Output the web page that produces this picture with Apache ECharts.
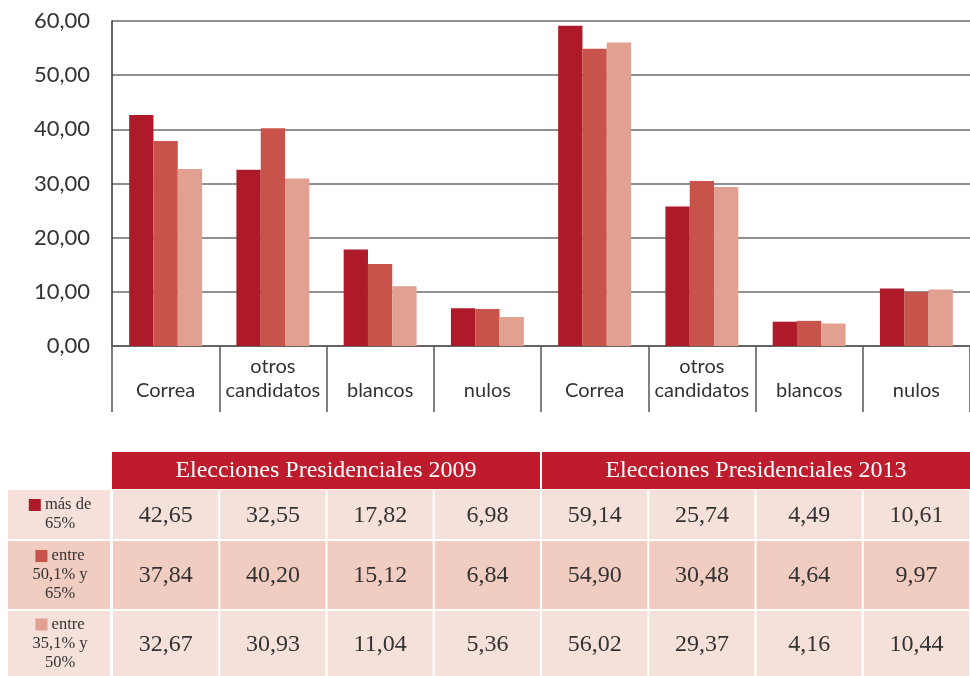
<!DOCTYPE html>
<html><head><meta charset="utf-8">
<script src="https://cdn.jsdelivr.net/npm/echarts@6/dist/echarts.min.js"></script>
<style>html,body{margin:0;padding:0;background:#fff}#c{width:970px;height:676px}</style>
</head><body><div id="c"></div>
<script>
const categories = ['Correa','otros\ncandidatos','blancos','nulos','Correa','otros\ncandidatos','blancos','nulos'];
const mas65 = [42.65, 32.55, 17.82, 6.98, 59.14, 25.74, 4.49, 10.61];
const entre50 = [37.84, 40.20, 15.12, 6.84, 54.90, 30.48, 4.64, 9.97];
const entre35 = [32.67, 30.93, 11.04, 5.36, 56.02, 29.37, 4.16, 10.44];
const seriesNames = ['más de\n65%', 'entre\n50,1% y\n65%', 'entre\n35,1% y\n50%'];
const headers = ['Elecciones Presidenciales 2009', 'Elecciones Presidenciales 2013'];
const yMin = 0, yMax = 60, yInterval = 10;

const colors = ['#AE1A2A', '#C8534A', '#E2A091'];
const rowBg = ['#F5E1DA', '#F0CCC1', '#F5E1DA'];
const allSeries = [mas65, entre50, entre35];
const fmt = v => v.toFixed(2).replace('.', ',');

const chart = echarts.init(document.getElementById('c'));
chart.setOption({
  animation: false,
  grid: { left: 112, right: 0, top: 21, bottom: 330, containLabel: false },
  xAxis: {
    type: 'category', data: categories,
    axisLine: { lineStyle: { color: '#555', width: 1.5 } },
    axisTick: { show: true, length: 66, lineStyle: { color: '#555', width: 1.5 } },
    axisLabel: { interval: 0, margin: 57, verticalAlign: 'bottom', lineHeight: 24,
      fontFamily: 'Lato', fontSize: 20, color: '#333' }
  },
  yAxis: {
    type: 'value', min: yMin, max: yMax, interval: yInterval,
    axisLine: { show: true, lineStyle: { color: '#333', width: 1.5 } },
    axisTick: { show: false },
    splitLine: { lineStyle: { color: '#6b6b6b', width: 1.5 } },
    axisLabel: { margin: 22, fontFamily: 'Lato', fontSize: 22, color: '#333',
      formatter: v => fmt(v) }
  },
  series: allSeries.map((d, i) => ({
    type: 'bar', name: seriesNames[i], data: d, barGap: '0%', barCategoryGap: '32%',
    itemStyle: { color: colors[i] }
  }))
});

function buildTable() {
  const c0 = chart.convertToPixel({ xAxisIndex: 0 }, 0);
  const c1 = chart.convertToPixel({ xAxisIndex: 0 }, 1);
  const band = c1 - c0;
  const x0 = c0 - band / 2;
  const rowTop = [490, 541, 611];
  const rowBot = [539, 609, 676];
  const els = [];
  headers.forEach((h, k) => {
    const xs = x0 + k * 4 * band + (k ? 1 : 0);
    const xe = x0 + (k + 1) * 4 * band - (k ? 0 : 1);
    els.push({ type: 'rect', shape: { x: xs, y: 452, width: xe - xs, height: 37 }, style: { fill: '#BE1C2D' } });
    els.push({ type: 'text', x: (xs + xe) / 2, y: 471, style: { text: h, fill: '#fff', font: '24px "Liberation Serif"', align: 'center', verticalAlign: 'middle' } });
  });
  allSeries.forEach((d, r) => {
    const yt = rowTop[r], yb = rowBot[r];
    els.push({ type: 'rect', shape: { x: 8, y: yt, width: 102, height: yb - yt }, style: { fill: rowBg[r] } });
    const lines = seriesNames[r].split('\n');
    els.push({ type: 'text', x: 60, y: (yt + yb) / 2, style: {
      text: '{sw|} ' + lines[0] + '\n' + lines.slice(1).join('\n'),
      rich: { sw: { width: 12, height: 12, backgroundColor: colors[r] } },
      fill: '#333', font: '16.5px "Liberation Serif"', lineHeight: 19, align: 'center', verticalAlign: 'middle' } });
    d.forEach((v, i) => {
      const xs = x0 + i * band + 1;
      const xe = x0 + (i + 1) * band - 1;
      els.push({ type: 'rect', shape: { x: xs, y: yt, width: xe - xs, height: yb - yt }, style: { fill: rowBg[r] } });
      els.push({ type: 'text', x: (xs + xe) / 2, y: (yt + yb) / 2 + 1, style: { text: fmt(v), fill: '#333', font: '24px "Liberation Serif"', align: 'center', verticalAlign: 'middle' } });
    });
  });
  chart.setOption({ graphic: { elements: els } });
}
buildTable();
</script></body></html>
